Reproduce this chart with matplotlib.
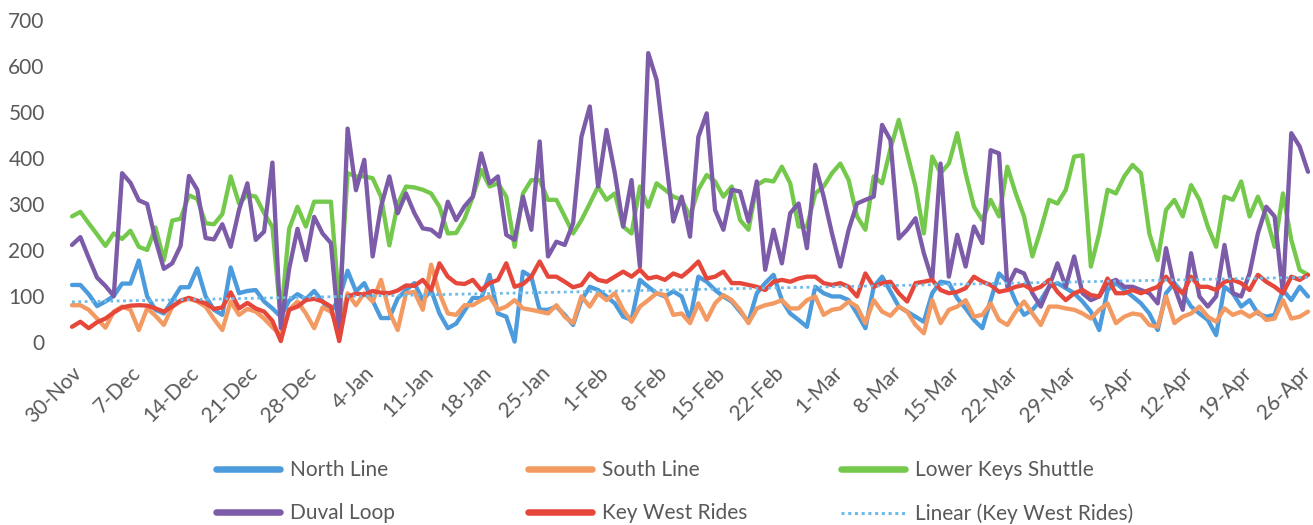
import matplotlib
matplotlib.use('Agg')
import matplotlib.pyplot as plt
import matplotlib.dates as mdates
from matplotlib.lines import Line2D
import numpy as np
import pandas as pd

# daily ridership, 30-Nov to 27-Apr
dates = pd.date_range('2020-11-30', '2021-04-27', freq='D')

north_line = [124, 124, 104, 78, 88, 100, 127, 127, 177, 99, 70, 62, 90, 119, 119, 160, 99, 70, 59, 162, 106, 111,
              113, 88, 73, 55, 90, 104, 93, 111, 88, 66, 95, 155, 110, 128, 90, 52, 52, 95, 113, 128, 91, 113, 62, 30, 40, 68,
              96, 95, 146, 62, 55, 1, 153, 142, 70, 70, 77, 59, 37, 91, 120, 113, 99, 84, 55, 48, 135, 120, 106, 99, 110,
              99, 48, 142, 131, 113, 99, 88, 66, 44, 106, 128, 146, 91, 62, 48, 33, 120, 106, 99, 99, 91, 62, 30, 120, 142,
              110, 77, 66, 55, 44, 106, 131, 128, 95, 73, 48, 30, 91, 149, 131, 88, 59, 70, 91, 120, 128, 117, 106, 88, 66,
              26, 113, 128, 113, 99, 84, 62, 26, 106, 128, 106, 77, 62, 48, 15, 120, 106, 77, 91, 62, 55, 59, 113, 91, 120, 99]

south_line = [80, 80, 70, 51, 31, 66, 77, 70, 26, 73, 57, 37, 77, 88, 94, 88, 77, 50, 26, 88, 59, 72,
              66, 51, 32, 15, 70, 88, 62, 30, 75, 66, 30, 106, 80, 106, 88, 135, 66, 26, 106, 109, 70, 168, 106, 62, 59, 80,
              80, 91, 99, 70, 77, 91, 73, 70, 66, 62, 80, 55, 41, 99, 77, 106, 91, 106, 70, 44, 77, 91, 106, 102, 59,
              62, 41, 84, 48, 84, 102, 91, 70, 41, 73, 80, 84, 91, 73, 73, 91, 99, 59, 70, 73, 88, 77, 41, 91, 66,
              57, 77, 66, 37, 19, 91, 41, 70, 77, 91, 55, 59, 84, 48, 37, 66, 88, 62, 37, 77, 77, 73, 70, 62, 51,
              70, 84, 41, 55, 62, 59, 37, 33, 99, 41, 55, 62, 77, 55, 44, 73, 59, 66, 55, 66, 48, 51, 91, 51, 55, 66]

lower_keys = [273, 283, 258, 234, 209, 236, 224, 242, 207, 200, 249, 178, 264, 268, 319, 311, 258, 256, 278, 360, 301, 320,
              316, 280, 250, 50, 246, 294, 251, 305, 305, 305, 80, 367, 360, 360, 356, 316, 210, 300, 338, 336, 331, 323, 294, 236, 237, 268,
              316, 374, 338, 345, 316, 207, 323, 352, 352, 309, 309, 273, 236, 265, 301, 338, 309, 323, 251, 236, 338, 294, 345, 331, 316,
              309, 273, 331, 363, 349, 316, 338, 265, 244, 341, 352, 349, 381, 345, 251, 251, 323, 338, 367, 388, 352, 273, 244, 360, 345,
              420, 483, 410, 338, 236, 403, 367, 388, 454, 367, 294, 265, 309, 273, 381, 323, 273, 186, 244, 309, 301, 331, 403, 406, 164,
              236, 331, 323, 360, 385, 367, 236, 178, 287, 309, 273, 341, 309, 251, 207, 316, 309, 349, 273, 316, 273, 207, 323, 222, 157, 146]

duval_loop = [211, 228, 183, 140, 122, 100, 367, 346, 308, 300, 222, 159, 171, 209, 361, 331, 226, 223, 256, 207, 287, 345,
              222, 240, 390, 30, 159, 246, 178, 272, 236, 215, 19, 464, 330, 396, 186, 294, 360, 280, 323, 280, 247, 244, 229, 305, 265, 295,
              316, 410, 345, 360, 233, 222, 316, 244, 436, 186, 218, 211, 258, 446, 512, 338, 461, 367, 251, 352, 164, 628, 570, 417, 262,
              316, 229, 446, 497, 287, 244, 331, 327, 262, 349, 157, 244, 171, 280, 301, 204, 385, 316, 236, 164, 244, 301, 309, 316, 472,
              439, 225, 244, 269, 193, 135, 388, 142, 233, 164, 251, 215, 417, 410, 120, 157, 149, 106, 77, 120, 171, 120, 186, 106, 91,
              99, 128, 135, 120, 120, 113, 106, 84, 204, 120, 70, 193, 99, 77, 99, 211, 106, 99, 149, 236, 294, 273, 106, 454, 425, 370]

key_west = [33, 44, 30, 43, 51, 64, 75, 79, 80, 79, 73, 66, 77, 90, 96, 90, 84, 72, 75, 108, 73, 85,
            73, 66, 46, 2, 70, 77, 91, 94, 88, 77, 2, 99, 105, 103, 111, 107, 106, 112, 123, 122, 135, 113, 171, 142, 128, 126,
            135, 113, 128, 135, 171, 120, 126, 142, 175, 142, 142, 131, 119, 124, 149, 135, 131, 142, 153, 142, 157, 138, 142, 135, 149,
            142, 157, 175, 138, 142, 153, 128, 128, 124, 120, 113, 131, 135, 131, 138, 142, 142, 128, 124, 128, 120, 99, 149, 120, 128,
            131, 106, 88, 128, 131, 135, 113, 106, 109, 117, 142, 131, 124, 109, 113, 120, 124, 113, 120, 135, 109, 91, 106, 113, 102,
            99, 138, 106, 106, 113, 106, 113, 120, 142, 120, 106, 142, 120, 120, 113, 131, 135, 128, 113, 146, 131, 120, 106, 142, 135, 146]

series = [('North Line', north_line, '#4C9BDC'),
          ('South Line', south_line, '#F29A62'),
          ('Lower Keys Shuttle', lower_keys, '#74C94C'),
          ('Duval Loop', duval_loop, '#7C5BA8'),
          ('Key West Rides', key_west, '#E6473B')]
trend_color = '#6DBBE8'
text_color = '#595959'

plt.rcParams['font.family'] = ['Lato', 'DejaVu Sans']

W, H = 1313, 525
fig = plt.figure(figsize=(W / 100, H / 100), dpi=100)
ax = fig.add_axes([60 / W, 1 - 342 / H, (1312 - 60) / W, (342 - 20) / H])

for name, vals, col in series:
    ax.plot(dates, vals, color=col, lw=3.1, solid_joinstyle='round',
            solid_capstyle='round', clip_on=False)

# linear trendline for Key West Rides
t = np.arange(len(dates))
coef = np.polyfit(t, key_west, 1)
ax.plot(dates, np.polyval(coef, t), color=trend_color, lw=2, ls=(0, (1, 1.3)))

xn = mdates.date2num(dates)
px_day = (1308 - 72) / (len(dates) - 1)
ax.set_xlim(xn[0] - (72 - 60) / px_day, xn[-1] + (1312 - 1308) / px_day)
ax.set_ylim(0, 700)
ax.set_yticks(range(0, 701, 100))

ticks = dates[::7]
ax.set_xticks(ticks)
ax.set_xticklabels([f'{d.day}-{d:%b}' for d in ticks], rotation=45,
                   ha='right', rotation_mode='anchor')

ax.tick_params(axis='both', length=0, labelsize=15, labelcolor=text_color)
ax.tick_params(axis='y', pad=11)
ax.tick_params(axis='x', pad=15)
for s in ax.spines.values():
    s.set_visible(False)

# legend: three columns, two rows, as in the original
handles = [Line2D([], [], color=c, lw=4.7, solid_capstyle='round') for _, _, c in series]
handles.append(Line2D([], [], color=trend_color, lw=2.2, ls=(0, (1, 1.2))))
labels = [n for n, _, _ in series] + ['Linear (Key West Rides)']
cols = [(0, 3), (1, 4), (2, 5)]
col_x = [216, 528, 841]
for (i, j), cx in zip(cols, col_x):
    fig.legend([handles[i], handles[j]], [labels[i], labels[j]],
               loc='upper left', bbox_to_anchor=(cx / W, 1 - 460 / H),
               frameon=False, fontsize=15, labelcolor=text_color,
               handlelength=3.05, handletextpad=0.5, labelspacing=1.12,
               borderpad=0, borderaxespad=0)

fig.savefig('out.png', dpi=100)
